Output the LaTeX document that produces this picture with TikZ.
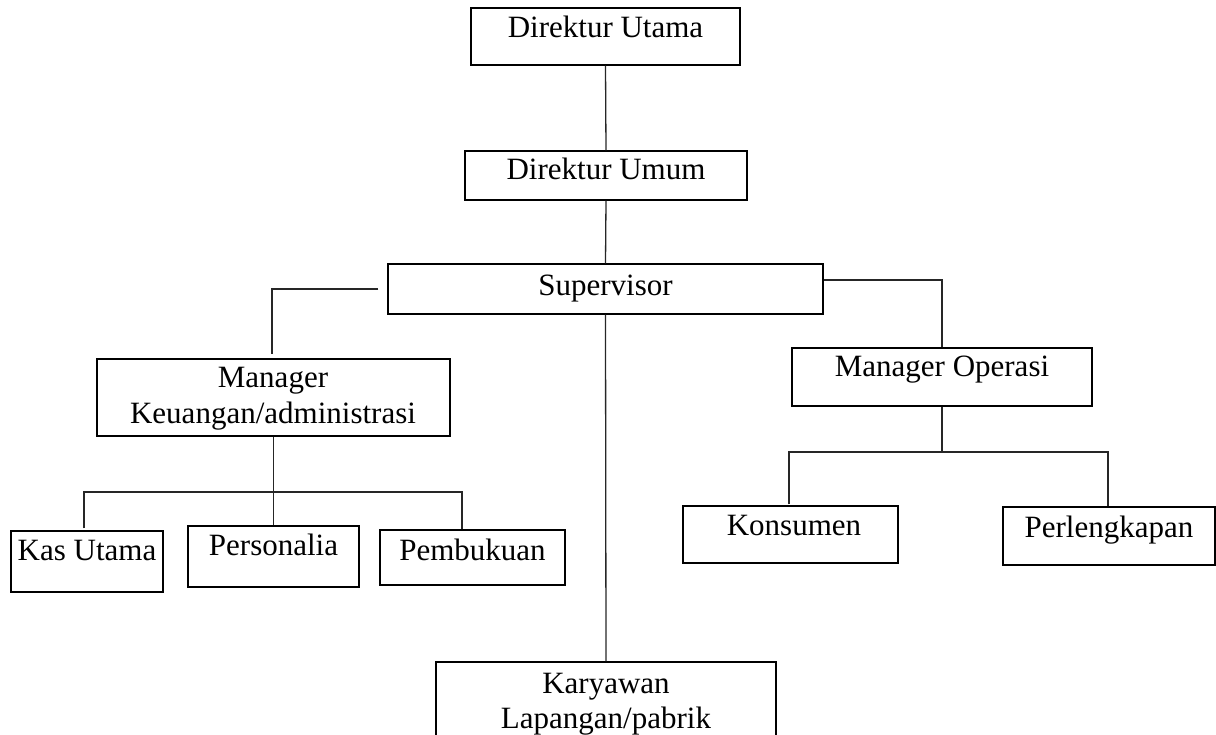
\documentclass[tikz,border=0pt]{standalone}
\usepackage{fontspec}
\setmainfont{Liberation Serif}
\usetikzlibrary{calc}
\begin{document}
\begin{tikzpicture}[x=1pt,y=-1pt,
  box/.style={draw=black, line width=1.3pt, rectangle, inner sep=0pt},
  txt/.style={anchor=base, inner sep=0pt, font=\fontsize{31}{35.5}\selectfont},
  conn/.style={draw=black!85, line width=1.3pt}]
\useasboundingbox (0,0) rectangle (1216,735);
\clip (0,0) rectangle (1216,735);
% boxes
\node[box, minimum width=269pt, minimum height=57pt] (du) at (605.5,36.5) {};
\node[box, minimum width=282pt, minimum height=49pt] (dum) at (606,175.5) {};
\node[box, minimum width=435pt, minimum height=50pt] (sup) at (605.5,289) {};
\node[box, minimum width=353pt, minimum height=77pt] (mk) at (273.5,397.5) {};
\node[box, minimum width=300pt, minimum height=58pt] (mo) at (942,377) {};
\node[box, minimum width=152pt, minimum height=61pt] (kas) at (87,561.5) {};
\node[box, minimum width=171pt, minimum height=61pt] (per) at (273.5,556.5) {};
\node[box, minimum width=185pt, minimum height=55pt] (pem) at (472.5,557.5) {};
\node[box, minimum width=215pt, minimum height=57pt] (kon) at (790.5,534.5) {};
\node[box, minimum width=212pt, minimum height=58pt] (perl) at (1109,536) {};
\node[box, minimum width=340pt, minimum height=90pt] (kar) at (606,707) {};
% texts
\node[txt] (tdu) at (605.5,38) {Direktur Utama};
\node[txt] (tdum) at (606,180) {Direktur Umum};
\node[txt] (tsup) at (605.5,296) {Supervisor};
\node[txt] (tmk1) at (273,388) {Manager};
\node[txt] (tmk2) at (273,423) {Keuangan/administrasi};
\node[txt] (tmo) at (942,377) {Manager Operasi};
\node[txt] (tkas) at (87,560) {Kas Utama};
\node[txt] (tper) at (273.5,555) {Personalia};
\node[txt] (tpem) at (472.5,560) {Pembukuan};
\node[txt] (tkon) at (794,535) {Konsumen};
\node[txt] (tperl) at (1109,537) {Perlengkapan};
\node[txt] (tkar1) at (606,693) {Karyawan};
\node[txt] (tkar2) at (606,728) {Lapangan/pabrik};
% bus points
\coordinate (busL) at (273.5,492);
\coordinate (busR) at (942,452);
% connectors
\draw[conn] (du.south) -- (dum.north);
\draw[conn] (dum.south) -- (sup.north);
\draw[conn] (sup.south) -- (kar.north);
\draw[conn, shorten <=9pt, shorten >=4pt] (sup.west) -| ($(mk.north)+(-1.5,0)$);
\draw[conn] ($(sup.east)+(0,-9)$) -| (mo.north);
\draw[conn] (mk.south) -- (per.north);
\draw[conn, shorten <=2pt] ($(kas.north)+(-3,0)$) |- (busL) -| ($(pem.north)+(-10.5,0)$);
\draw[conn] (mo.south) -- (busR);
\draw[conn, shorten <=1pt] ($(kon.north)+(-1.5,0)$) |- (busR) -| ($(perl.north)+(-1,0)$);
\end{tikzpicture}
\end{document}
